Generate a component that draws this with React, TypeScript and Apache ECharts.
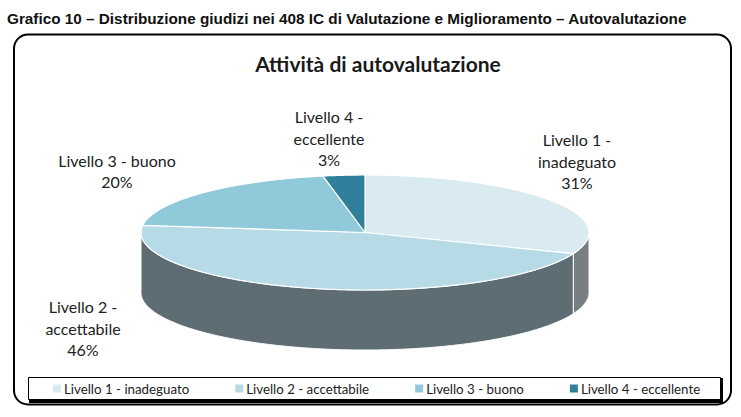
import React, { useEffect, useRef } from "react";
import * as echarts from "echarts";

const heading = "Grafico 10 – Distribuzione giudizi nei 408 IC di Valutazione e Miglioramento – Autovalutazione";
const chartTitle = "Attività di autovalutazione";
const categories = ["Livello 1 - inadeguato", "Livello 2 - accettabile", "Livello 3 - buono", "Livello 4 - eccellente"];
const labelLines = [
  ["Livello 1 -", "inadeguato"],
  ["Livello 2 -", "accettabile"],
  ["Livello 3 - buono"],
  ["Livello 4 -", "eccellente"],
];
const values = [31, 46, 20, 3];
const topColors = ["#d9ebf1", "#b6dae6", "#90c9d9", "#31809b"];
const sideColors = ["#777f82", "#5d6d73", "#5d6d73", "#5d6d73"];

const CX = 365, CY = 232.5, RX = 224, RY = 57.5, DEPTH = 60;
const labelAnchors = [[577, 161], [83, 328], [117, 171], [329, 138]];
const FONT = "Lato, Carlito, 'Open Sans', sans-serif";
const total = values.reduce((a, b) => a + b, 0);

const pt = (deg: number, dy = 0) => {
  const t = (deg * Math.PI) / 180;
  return [CX + RX * Math.sin(t), CY - RY * Math.cos(t) + dy];
};

const sliceSeries = (i: number) => ({
  type: "custom",
  name: categories[i],
  coordinateSystem: "none",
  silent: true,
  itemStyle: { color: topColors[i] },
  data: [[values[i]]],
  renderItem: (_p: any, api: any) => {
    const v = api.value(0);
    const before = values.slice(0, i).reduce((a, b) => a + b, 0);
    const a0 = (before / total) * 360;
    const a1 = ((before + v) / total) * 360;
    const children: any[] = [];
    const wallStart = Math.max(a0, 90);
    const wallEnd = Math.min(a1, 270);
    if (wallEnd > wallStart) {
      const pts: number[][] = [];
      for (let d = wallStart; d < wallEnd; d += 0.5) pts.push(pt(d));
      pts.push(pt(wallEnd));
      for (let d = wallEnd; d > wallStart; d -= 0.5) pts.push(pt(d, DEPTH));
      pts.push(pt(wallStart, DEPTH));
      children.push({
        type: "polygon",
        shape: { points: pts },
        style: { fill: sideColors[i], stroke: "#ffffff", lineWidth: 1 },
      });
    }
    const top: number[][] = [[CX, CY]];
    for (let d = a0; d < a1; d += 0.5) top.push(pt(d));
    top.push(pt(a1));
    children.push({
      type: "polygon",
      shape: { points: top },
      style: { fill: topColors[i], stroke: "#ffffff", lineWidth: 1.2 },
    });
    const pct = Math.round((v / total) * 100) + "%";
    children.push({
      type: "text",
      x: labelAnchors[i][0],
      y: labelAnchors[i][1],
      style: {
        text: [...labelLines[i], pct].join("\n"),
        align: "center",
        verticalAlign: "middle",
        font: `16px ${FONT}`,
        fill: "#222222",
        lineHeight: 21.5,
      },
    });
    return { type: "group", children };
  },
});

export default function App() {
  const ref = useRef<HTMLDivElement>(null);
  useEffect(() => {
    const chart = echarts.init(ref.current!, null, { renderer: "svg" });
    chart.setOption({
      animation: false,
      backgroundColor: "#ffffff",
      title: {
        text: chartTitle,
        left: 373,
        top: 48,
        textAlign: "center",
        textStyle: { fontFamily: FONT, fontSize: 21, fontWeight: "bold", color: "#1a1a1a" },
      },
      legend: {
        left: 53,
        top: 382,
        padding: 0,
        data: categories,
        icon: "rect",
        itemWidth: 8,
        itemHeight: 8,
        itemGap: 46,
        selectedMode: false,
        textStyle: { fontFamily: FONT, fontSize: 13.3, color: "#222222", padding: [0, 0, 0, -2] },
      },
      graphic: [
        {
          type: "text",
          x: 7,
          y: 11,
          silent: true,
          style: { text: heading, font: "bold 15.3px 'Liberation Sans', Arial, sans-serif", fill: "#111111" },
        },
        {
          type: "rect",
          z: -1,
          silent: true,
          shape: { x: 14, y: 34.5, width: 717, height: 370, r: 14 },
          style: { fill: "#ffffff", stroke: "#000000", lineWidth: 2 },
        },
        {
          type: "rect",
          z: -1,
          silent: true,
          shape: { x: 29, y: 378, width: 694, height: 25 },
          style: { fill: "#000000" },
        },
        {
          type: "rect",
          z: -1,
          silent: true,
          shape: { x: 28.5, y: 377.5, width: 692, height: 22 },
          style: { fill: "#ffffff", stroke: "#000000", lineWidth: 1 },
        },
      ],
      series: values.map((_, i) => sliceSeries(i)),
    });
    return () => chart.dispose();
  }, []);
  return <div ref={ref} style={{ position: "fixed", left: 0, top: 0, width: 741, height: 417 }} />;
}
